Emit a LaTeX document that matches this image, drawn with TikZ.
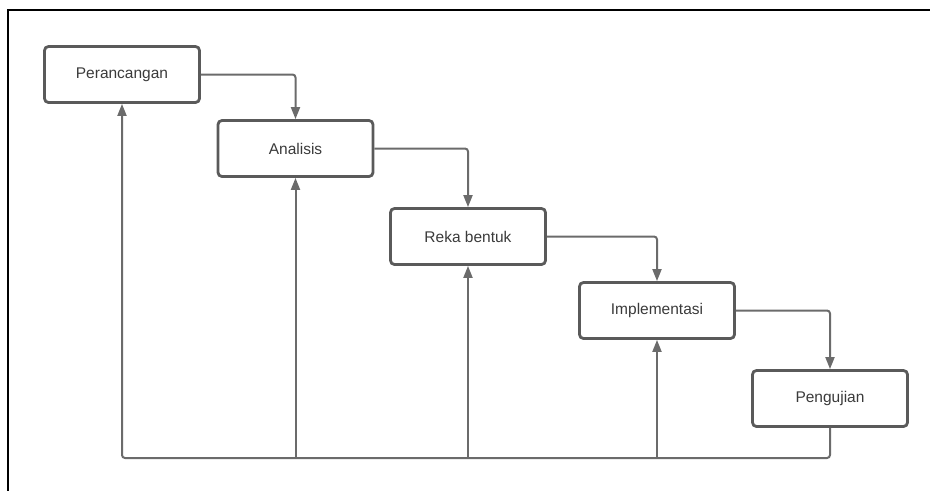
\documentclass[tikz,border=0pt]{standalone}
\usepackage{fontspec}
\setmainfont{Liberation Sans}
\usetikzlibrary{arrows.meta}

\definecolor{boxgray}{HTML}{5A5A5A}
\definecolor{linegray}{HTML}{6B6B6B}
\definecolor{textgray}{HTML}{3A3A3A}

\tikzset{
    phase/.style={draw=boxgray, line width=2.8pt, rounded corners=4pt,
        minimum width=155pt, minimum height=56pt, inner sep=0pt,
        text=textgray, font=\fontsize{15.5}{18}\selectfont},
    flow/.style={linegray, line width=2pt, rounded corners=3pt,
        -{Triangle[length=12pt,width=9pt]}},
}

\begin{document}
\begin{tikzpicture}[x=1pt, y=-1pt]

        \useasboundingbox (0,0) rectangle (930,491);

        % frame
        \draw[black, line width=2pt] (930,10) -- (8,10) -- (8,491);

        % phases
        \node[phase] (per) at (122,74.5) {Perancangan};
        \node[phase] (ana) at (295.5,148.5) {Analisis};
        \node[phase] (reka) at (468,236.5) {Reka bentuk};
        \node[phase] (imp) at (657,310.5) {Implementasi};
        \node[phase] (uji) at (830,398.5) {Pengujian};

        % forward
        \draw[flow] (per.east) -| (ana.north);
        \draw[flow] (ana.east) -| (reka.north);
        \draw[flow] (reka.east) -| (imp.north);
        \draw[flow] (imp.east) -| (uji.north);

        % back
        \coordinate (base) at (122,458);
        \draw[flow] (uji.south) |- (base) -- (per.south);
        \draw[flow] (ana.south |- base) -- (ana.south);
        \draw[flow] (reka.south |- base) -- (reka.south);
        \draw[flow] (imp.south |- base) -- (imp.south);

    \end{tikzpicture}
\end{document}
